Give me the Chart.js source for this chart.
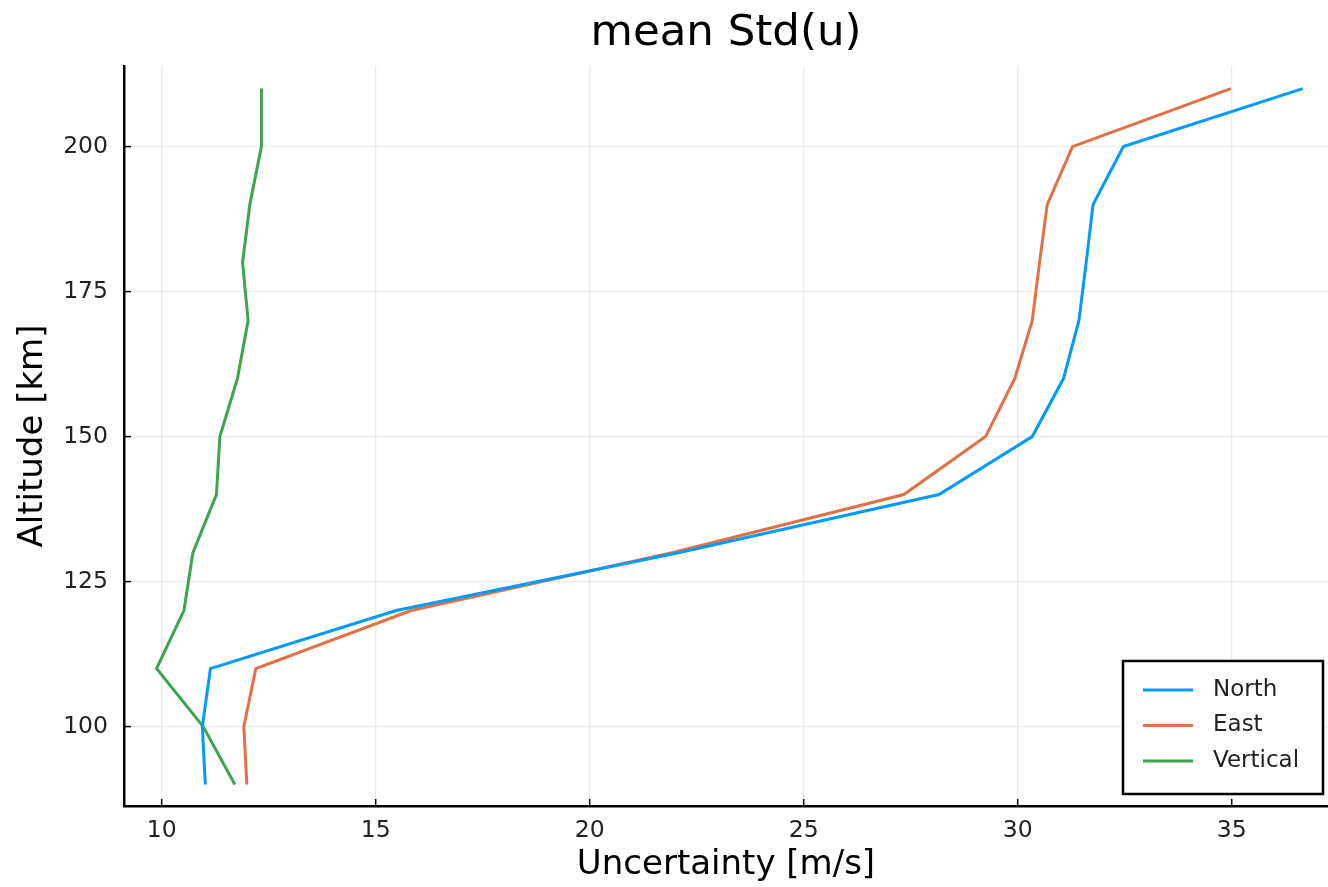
<!DOCTYPE html>
<html>
<head>
<meta charset="utf-8">
<script src="https://cdn.jsdelivr.net/npm/chart.js@4.4.1/dist/chart.umd.min.js"></script>
<style>
  html, body { margin: 0; padding: 0; background: #fff; }
  #wrap { width: 1328px; height: 887px; }
</style>
</head>
<body>
<div id="wrap"><canvas id="stdChart" width="1328" height="887"></canvas></div>
<script>
// altitude levels [km] and mean std per component [m/s]
const altitude = [90, 100, 110, 120, 130, 140, 150, 160, 170, 180, 190, 200, 210];
const north    = [11.02, 10.95, 11.14, 15.48, 22.1, 28.16, 30.34, 31.07, 31.43, 31.6, 31.76, 32.47, 36.66];
const east     = [11.99, 11.92, 12.2, 15.83, 21.95, 27.34, 29.25, 29.93, 30.34, 30.51, 30.69, 31.28, 34.98];
const vertical = [11.71, 10.97, 9.88, 10.52, 10.73, 11.28, 11.36, 11.77, 12.02, 11.89, 12.06, 12.33, 12.33];

const seriesNames = ['North', 'East', 'Vertical'];
const xTicks = [10, 15, 20, 25, 30, 35];
const yTicks = [100, 125, 150, 175, 200];
const chartTitle = 'mean Std(u)';

const FONT = "'DejaVu Sans', sans-serif";
const colors = ['#009AFA', '#E36F47', '#3EA44E'];

function toPoints(values) {
    return values.map((v, i) => ({ x: v, y: altitude[i] }));
}

// title centred over the plot area, like Plots.jl does
const plotTitle = {
    id: 'plotTitle',
    afterDraw(chart) {
        const ctx = chart.ctx;
        const area = chart.chartArea;
        ctx.save();
        ctx.fillStyle = '#000';
        ctx.font = '43.5px ' + FONT;
        ctx.textAlign = 'center';
        ctx.textBaseline = 'middle';
        ctx.fillText(chartTitle, (area.left + area.right) / 2, 34);
        ctx.restore();
    }
};

// Julia-style ticks pointing into the plot
const innerTicks = {
    id: 'innerTicks',
    afterDraw(chart) {
        const ctx = chart.ctx;
        const area = chart.chartArea;
        ctx.save();
        ctx.strokeStyle = '#000';
        ctx.lineWidth = 1.5;
        chart.scales.x.ticks.forEach(t => {
            const px = chart.scales.x.getPixelForValue(t.value);
            ctx.beginPath();
            ctx.moveTo(px, area.bottom);
            ctx.lineTo(px, area.bottom - 7);
            ctx.stroke();
        });
        chart.scales.y.ticks.forEach(t => {
            const py = chart.scales.y.getPixelForValue(t.value);
            ctx.beginPath();
            ctx.moveTo(area.left, py);
            ctx.lineTo(area.left + 7, py);
            ctx.stroke();
        });
        ctx.restore();
    }
};

// boxed legend in the bottom-right corner
const boxLegend = {
    id: 'boxLegend',
    afterDraw(chart) {
        const ctx = chart.ctx;
        const area = chart.chartArea;
        const w = 200, h = 133;
        const x0 = area.right - 5 - w;
        const y0 = area.bottom - 12 - h;
        ctx.save();
        ctx.fillStyle = '#fff';
        ctx.fillRect(x0, y0, w, h);
        ctx.strokeStyle = '#000';
        ctx.lineWidth = 2.5;
        ctx.strokeRect(x0, y0, w, h);
        ctx.font = '23px ' + FONT;
        ctx.textBaseline = 'middle';
        chart.data.datasets.forEach((ds, i) => {
            const yy = y0 + 29 + i * 35.5;
            ctx.strokeStyle = ds.borderColor;
            ctx.lineWidth = 3;
            ctx.beginPath();
            ctx.moveTo(x0 + 20, yy);
            ctx.lineTo(x0 + 70, yy);
            ctx.stroke();
            ctx.fillStyle = '#222';
            ctx.fillText(ds.label, x0 + 90, yy);
        });
        ctx.restore();
    }
};

const ctx = document.getElementById('stdChart').getContext('2d');
new Chart(ctx, {
    type: 'scatter',
    data: {
        datasets: [north, east, vertical].map((vals, i) => ({
            label: seriesNames[i],
            data: toPoints(vals),
            showLine: true,
            borderColor: colors[i],
            backgroundColor: colors[i],
            borderWidth: 3,
            pointRadius: 0,
            tension: 0
        }))
    },
    options: {
        responsive: false,
        animation: false,
        layout: { padding: { top: 66 } },
        plugins: {
            legend: { display: false },
            tooltip: { enabled: false },
            title: { display: false }
        },
        scales: {
            x: {
                type: 'linear',
                min: 9.12,
                max: 37.25,
                afterBuildTicks: s => { s.ticks = xTicks.map(v => ({ value: v })); },
                afterFit: s => { s.height = 81; },
                ticks: {
                    color: '#222',
                    padding: 11,
                    font: { family: FONT, size: 23.5 }
                },
                grid: { color: 'rgba(0,0,0,0.08)', lineWidth: 1.3, drawTicks: false },
                border: { color: '#000', width: 2.5 },
                title: {
                    display: true,
                    text: 'Uncertainty [m/s]',
                    color: '#000',
                    font: { family: FONT, size: 34 },
                    padding: { top: 4, bottom: 1 }
                }
            },
            y: {
                type: 'linear',
                min: 86.3,
                max: 213.9,
                afterBuildTicks: s => { s.ticks = yTicks.map(v => ({ value: v })); },
                afterFit: s => { s.width = 124; },
                ticks: {
                    color: '#222',
                    padding: 16,
                    font: { family: FONT, size: 23.5 }
                },
                grid: { color: 'rgba(0,0,0,0.08)', lineWidth: 1.3, drawTicks: false },
                border: { color: '#000', width: 2.5 },
                title: {
                    display: true,
                    text: 'Altitude [km]',
                    color: '#000',
                    font: { family: FONT, size: 34 },
                    padding: { top: 13, bottom: 4 }
                }
            }
        }
    },
    plugins: [plotTitle, innerTicks, boxLegend]
});
</script>
</body>
</html>
